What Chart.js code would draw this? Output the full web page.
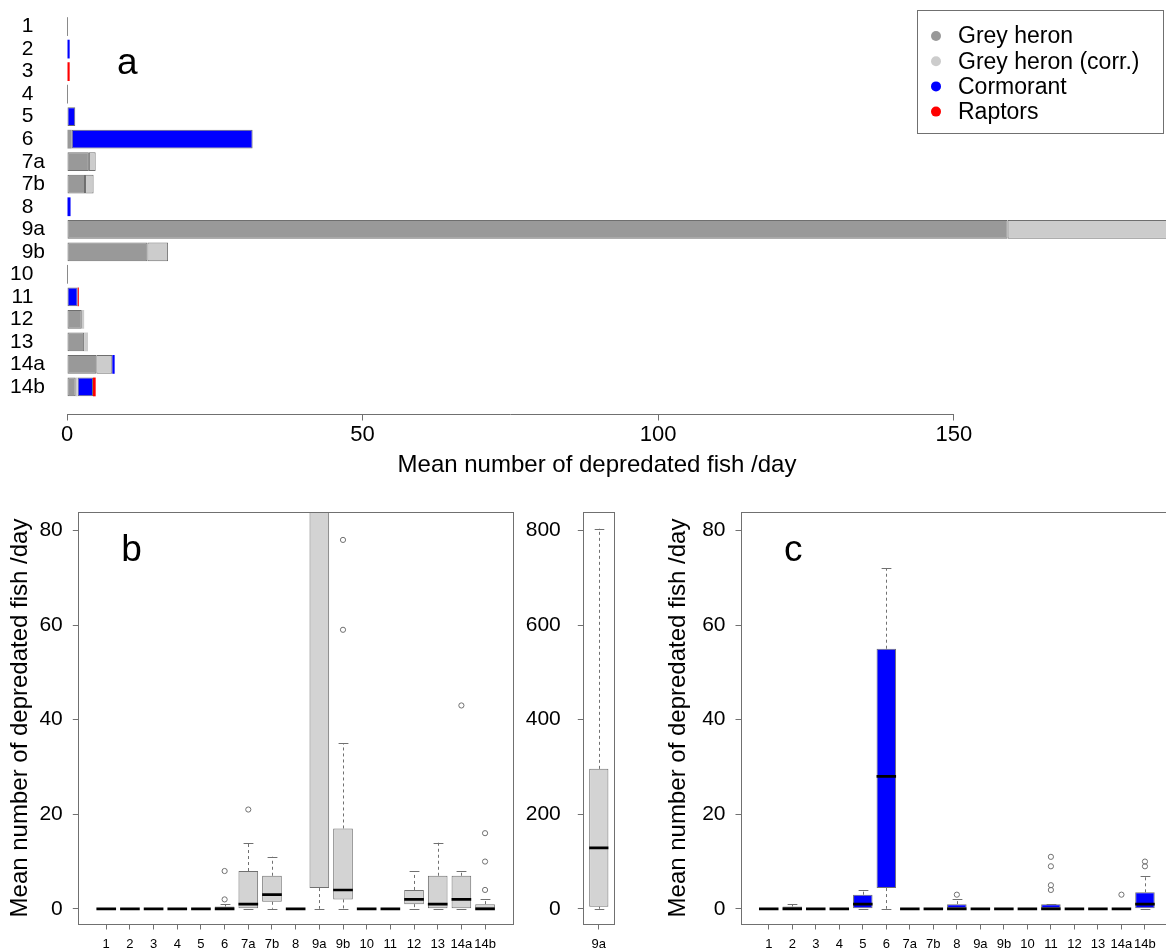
<!DOCTYPE html>
<html>
<head>
<meta charset="utf-8">
<script src="https://cdn.jsdelivr.net/npm/chart.js@4/dist/chart.umd.min.js"></script>
<style>
  html, body { margin: 0; padding: 0; background: #fff; width: 1166px; height: 948px; overflow: hidden; }
  .panel { position: absolute; }
</style>
</head>
<body>
<div class="panel" style="left:0px;top:0px"><canvas id="chartA" width="1166" height="480"></canvas></div>
<div class="panel" style="left:0px;top:490px"><canvas id="chartB" width="520" height="458"></canvas></div>
<div class="panel" style="left:520px;top:490px"><canvas id="chartB9a" width="100" height="458"></canvas></div>
<div class="panel" style="left:620px;top:490px"><canvas id="chartC" width="560" height="458"></canvas></div>
<script>
// ---- Sites (farms) ----
const sites = ['1', '2', '3', '4', '5', '6', '7a', '7b', '8', '9a', '9b', '10', '11', '12', '13', '14a', '14b'];

// ---- Tick values ----
const depredationTicks = [0, 50, 100, 150];
const boxTicks = [0, 20, 40, 60, 80];
const boxTicks9a = [0, 200, 400, 600, 800];

// ---- (a) Mean number of depredated fish per day, by predator ----
//                      1  2     3     4  5    6     7a    7b    8    9a     9b    10 11   12   13    14a   14b
const greyHeron     = [0, 0,    0,    0, 0,   0.8,  3.7,  3.05, 0,   159.1, 13.6, 0, 0,   2.5, 2.9,  4.96, 1.47];
const greyHeronCorr = [0, 0,    0,    0, 0,   0,    1.15, 1.45, 0,   36,    3.5,  0, 0,   0.4, 0.65, 2.7,  0.33];
const cormorant     = [0, 0.45, 0,    0, 1.4, 30.6, 0,    0,    0.6, 0,     0,    0, 1.8, 0,   0,    0.4,  2.6];
const raptors       = [0, 0,    0.45, 0, 0,   0,    0,    0,    0,   0,     0,    0, 0.2, 0,   0,    0,    0.45];

// ---- (b) Grey heron, daily depredation: box statistics ----
const heronLow      = [0, 0, 0, 0, 0, 0,   0,  0,   0, 0,   0,  0, 0, 0, 0,  0, 0];
const heronQ1       = [0, 0, 0, 0, 0, 0,   0,  1.5, 0, 4.4, 2,  0, 0, 1, 0,  0, 0];
const heronMedian   = [0, 0, 0, 0, 0, 0,   1,  3,   0, 129, 4,  0, 0, 2, 1,  2, 0];
const heronQ3       = [0, 0, 0, 0, 0, 0.5, 8,  7,   0, 296, 17, 0, 0, 4, 7,  7, 1];
const heronHigh     = [0, 0, 0, 0, 0, 1,   14, 11,  0, 804, 35, 0, 0, 8, 14, 8, 2];
const heronOutliers = [[], [], [], [], [], [2, 8], [21], [], [], [], [59, 78], [], [], [], [], [43], [4, 10, 16]];

// ---- (c) Cormorant, daily depredation: box statistics ----
const cormLow      = [0, 0,   0, 0, 0, 0,   0, 0, 0, 0, 0, 0, 0, 0, 0, 0, 0];
const cormQ1       = [0, 0,   0, 0, 0, 4.4, 0, 0, 0, 0, 0, 0, 0, 0, 0, 0, 0];
const cormMedian   = [0, 0,   0, 0, 1, 28,  0, 0, 0, 0, 0, 0, 0, 0, 0, 0, 1];
const cormQ3       = [0, 0.5, 0, 0, 3, 55,  0, 0, 1, 0, 0, 0, 1, 0, 0, 0, 3.5];
const cormHigh     = [0, 1,   0, 0, 4, 72,  0, 0, 2, 0, 0, 0, 1, 0, 0, 0, 7];
const cormOutliers = [[], [], [], [], [], [], [], [], [3], [], [], [], [4, 5, 9, 11], [], [], [3], [9, 10]];

const FONT = '"Liberation Sans", Arial, Helvetica, sans-serif';
const AXIS_GREY = '#707070';
const TITLE = 'Mean number of depredated fish /day';

Chart.defaults.font.family = FONT;
Chart.defaults.color = '#000';
Chart.defaults.animation = false;
Chart.defaults.responsive = false;
Chart.defaults.plugins.legend.display = false;
Chart.defaults.plugins.tooltip.enabled = false;

// ---------- shared plugins ----------
const panelLetter = {
  id: 'panelLetter',
  afterDraw(chart, args, o) {
    if (!o.text) return;
    const {ctx, chartArea} = chart;
    ctx.save();
    ctx.font = `${o.size}px ${FONT}`;
    ctx.fillStyle = '#000';
    ctx.textBaseline = 'alphabetic';
    ctx.fillText(o.text, chartArea.left + o.dx, chartArea.top + o.dy);
    ctx.restore();
  }
};

const frameBox = {
  id: 'frameBox',
  afterDraw(chart) {
    const {ctx, chartArea: a} = chart;
    ctx.save();
    ctx.strokeStyle = AXIS_GREY;
    ctx.lineWidth = 1;
    ctx.strokeRect(Math.round(a.left) + 0.5, Math.round(a.top) + 0.5,
                   Math.round(a.right - a.left), Math.round(a.bottom - a.top));
    ctx.restore();
  }
};

// whiskers, caps and medians on top of the floating-bar boxes
const whiskers = {
  id: 'whiskers',
  afterDatasetsDraw(chart, args, o) {
    const {ctx, chartArea: a} = chart;
    const y = chart.scales.y;
    const meta = chart.getDatasetMeta(0);
    const py = v => y.getPixelForValue(v);
    const seg = (x1, y1, x2, y2) => { ctx.beginPath(); ctx.moveTo(x1, y1); ctx.lineTo(x2, y2); ctx.stroke(); };
    ctx.save();
    ctx.beginPath();
    ctx.rect(a.left, a.top, a.right - a.left, a.bottom - a.top);
    ctx.clip();
    meta.data.forEach((bar, k) => {
      const i = o.index[k];
      const x = Math.round(bar.x) + 0.5;
      const half = bar.width / 2;
      ctx.strokeStyle = AXIS_GREY;
      ctx.lineWidth = 1;
      ctx.setLineDash([3, 3]);
      if (o.high[i] > o.q3[i]) seg(x, py(o.q3[i]), x, py(o.high[i]));
      if (o.low[i] < o.q1[i]) seg(x, py(o.q1[i]), x, py(o.low[i]));
      ctx.setLineDash([]);
      seg(x - half / 2, Math.round(py(o.high[i])) + 0.5, x + half / 2, Math.round(py(o.high[i])) + 0.5);
      seg(x - half / 2, Math.round(py(o.low[i])) + 0.5, x + half / 2, Math.round(py(o.low[i])) + 0.5);
      ctx.strokeStyle = '#000';
      ctx.lineWidth = 2.6;
      seg(bar.x - half, py(o.median[i]), bar.x + half, py(o.median[i]));
    });
    ctx.restore();
  }
};

// ---------- (a) horizontal stacked bars ----------
const rowsOf = values => values.map((v, i) => ({x: v, y: i + 1}));

// rows with nothing recorded still show the bar outline as a thin vertical stroke
const zeroEdges = {
  id: 'zeroEdges',
  afterDatasetsDraw(chart) {
    const {ctx} = chart;
    const sets = chart.data.datasets;
    const meta = chart.getDatasetMeta(0);
    ctx.save();
    ctx.strokeStyle = '#8a8a8a';
    ctx.lineWidth = 1;
    meta.data.forEach((bar, i) => {
      if (sets.some(ds => ds.data[i].x !== 0)) return;
      const x = Math.round(bar.base) + 0.5;
      ctx.beginPath();
      ctx.moveTo(x, bar.y - bar.height / 2);
      ctx.lineTo(x, bar.y + bar.height / 2);
      ctx.stroke();
    });
    ctx.restore();
  }
};

// axis line spanning the labelled range only
const axisLineA = {
  id: 'axisLineA',
  afterDraw(chart) {
    const {ctx} = chart;
    const x = chart.scales.x;
    const yy = Math.round(x.top) + 0.5;
    ctx.save();
    ctx.strokeStyle = AXIS_GREY;
    ctx.lineWidth = 1;
    ctx.beginPath();
    ctx.moveTo(x.getPixelForValue(depredationTicks[0]), yy);
    ctx.lineTo(x.getPixelForValue(depredationTicks[depredationTicks.length - 1]), yy);
    ctx.stroke();
    ctx.restore();
  }
};

const legendBox = {
  id: 'legendBox',
  afterDraw(chart, args, o) {
    const {ctx} = chart;
    const right = chart.width - o.right;
    const left = right - o.width;
    ctx.save();
    ctx.fillStyle = '#fff';
    ctx.fillRect(left, o.top, o.width, o.height);
    ctx.strokeStyle = AXIS_GREY;
    ctx.lineWidth = 1;
    ctx.strokeRect(Math.round(left) + 0.5, o.top + 0.5, o.width, o.height);
    ctx.font = `${o.size}px ${FONT}`;
    ctx.textBaseline = 'middle';
    chart.data.datasets.forEach((ds, i) => {
      const cy = o.top + o.first + i * o.step;
      ctx.fillStyle = ds.backgroundColor;
      ctx.beginPath();
      ctx.arc(left + o.dot, cy, o.radius, 0, Math.PI * 2);
      ctx.fill();
      ctx.fillStyle = '#000';
      ctx.fillText(ds.label, left + o.text, cy + 1);
    });
    ctx.restore();
  }
};

new Chart(document.getElementById('chartA'), {
  type: 'bar',
  data: {
    datasets: [
      {label: 'Grey heron', data: rowsOf(greyHeron), backgroundColor: '#999999'},
      {label: 'Grey heron (corr.)', data: rowsOf(greyHeronCorr), backgroundColor: '#cccccc'},
      {label: 'Cormorant', data: rowsOf(cormorant), backgroundColor: '#0000ff'},
      {label: 'Raptors', data: rowsOf(raptors), backgroundColor: '#ff0000'}
    ]
  },
  options: {
    indexAxis: 'y',
    layout: {padding: {left: 0, top: 0, right: 39, bottom: 0}},
    datasets: {bar: {
      borderColor: '#6e6e6e', borderSkipped: false, clip: false,
      // very thin segments keep their colour instead of turning into outline only
      borderWidth: c => (c.raw && c.raw.x < 1 ? 0 : 1),
      categoryPercentage: 1, barPercentage: 0.833
    }},
    scales: {
      x: {
        type: 'linear', stacked: true, min: 0, max: 179.3,
        afterBuildTicks: s => { s.ticks = depredationTicks.map(v => ({value: v})); },
        ticks: {font: {size: 22}, padding: 1, maxRotation: 0},
        grid: {drawOnChartArea: false, tickLength: 7, color: AXIS_GREY},
        border: {display: false},
        title: {display: true, text: TITLE, font: {size: 24}, padding: {top: 0, bottom: 0}},
        afterFit: s => { s.height = 66.5; s.paddingLeft = 0; s.paddingRight = 0; }
      },
      y: {
        type: 'linear', stacked: true, reverse: true, offset: false, min: -0.18, max: 18.18,
        afterBuildTicks: s => { s.ticks = sites.map((_, i) => ({value: i + 1})); },
        ticks: {
          font: {size: 21}, padding: 22, autoSkip: false,
          callback: v => { const l = sites[v - 1]; return /^\d+$/.test(l) ? l + '  ' : l; }
        },
        grid: {display: false, drawTicks: false, offset: false},
        border: {display: false},
        afterFit: s => { s.width = 67; s.paddingTop = 0; s.paddingBottom = 0; }
      }
    },
    plugins: {
      panelLetter: {text: 'a', size: 37, dx: 50, dy: 73.5},
      legendBox: {right: 3, width: 246, top: 10, height: 123, first: 26, step: 25.2,
                  dot: 19, radius: 5, text: 41, size: 23}
    }
  },
  plugins: [zeroEdges, axisLineA, legendBox, panelLetter]
});

// ---------- (b), (c) box plots ----------
function boxChart(id, cfg) {
  const idx = cfg.index;
  const ext = 0.04 * idx.length;
  return new Chart(document.getElementById(id), {
    type: 'bar',
    data: {
      datasets: [
        {
          type: 'bar',
          data: idx.map((i, k) => ({x: k + 1, y: [cfg.q1[i], cfg.q3[i]]})),
          backgroundColor: cfg.fill, borderColor: AXIS_GREY, borderWidth: 1, borderSkipped: false,
          categoryPercentage: 1, barPercentage: cfg.boxWidth
        },
        {
          type: 'scatter',
          data: idx.flatMap((i, k) => cfg.outliers[i].map(v => ({x: k + 1, y: v}))),
          pointRadius: 2.6, pointBorderWidth: 1, pointBorderColor: AXIS_GREY,
          pointBackgroundColor: 'rgba(0,0,0,0)'
        }
      ]
    },
    options: {
      layout: {padding: {left: 0, top: 22, right: cfg.padRight, bottom: 0}},
      scales: {
        x: {
          type: 'linear', offset: false, min: 0.5 - ext, max: idx.length + 0.5 + ext,
          afterBuildTicks: s => { s.ticks = idx.map((_, k) => ({value: k + 1})); },
          ticks: {font: {size: 13}, padding: 7, autoSkip: false, maxRotation: 0,
                  callback: v => sites[idx[v - 1]]},
          grid: {drawOnChartArea: false, tickLength: 5.5, color: AXIS_GREY, offset: false},
          border: {display: false},
          afterFit: s => { s.height = 24; s.paddingLeft = 0; s.paddingRight = 0; }
        },
        y: {
          type: 'linear', min: cfg.yMin, max: cfg.yMax,
          afterBuildTicks: s => { s.ticks = cfg.yTicks.map(v => ({value: v})); },
          ticks: {font: {size: 21}, padding: cfg.tickPad},
          grid: {drawOnChartArea: false, tickLength: 5.5, color: AXIS_GREY},
          border: {display: false},
          title: cfg.title ? {display: true, text: cfg.title, font: {size: 24}, padding: {top: cfg.titlePad}} : {display: false},
          afterFit: s => { s.width = cfg.axisWidth; s.paddingTop = 0; s.paddingBottom = 0; }
        }
      },
      plugins: {
        whiskers: {index: idx, low: cfg.low, q1: cfg.q1, median: cfg.median, q3: cfg.q3, high: cfg.high},
        panelLetter: {text: cfg.letter || '', size: 37, dx: 43, dy: 49}
      }
    },
    plugins: [whiskers, frameBox, panelLetter]
  });
}

const allSites = sites.map((_, i) => i);

boxChart('chartB', {
  index: allSites, fill: '#d3d3d3', boxWidth: 0.83,
  low: heronLow, q1: heronQ1, median: heronMedian, q3: heronQ3, high: heronHigh, outliers: heronOutliers,
  yMin: -3.2, yMax: 83.9, yTicks: boxTicks, tickPad: 10, axisWidth: 78.3, padRight: 7,
  title: TITLE, titlePad: 6, letter: 'b'
});

boxChart('chartB9a', {
  index: [sites.indexOf('9a')], fill: '#d3d3d3', boxWidth: 0.62,
  low: heronLow, q1: heronQ1, median: heronMedian, q3: heronQ3, high: heronHigh, outliers: heronOutliers,
  yMin: -32, yMax: 839, yTicks: boxTicks9a, tickPad: 17, axisWidth: 63.3, padRight: 5.7
});

boxChart('chartC', {
  index: allSites, fill: '#0000ff', boxWidth: 0.83,
  low: cormLow, q1: cormQ1, median: cormMedian, q3: cormQ3, high: cormHigh, outliers: cormOutliers,
  yMin: -3.2, yMax: 83.9, yTicks: boxTicks, tickPad: 10, axisWidth: 121, padRight: 7.3,
  title: TITLE, titlePad: 44, letter: 'c'
});
</script>
</body>
</html>
